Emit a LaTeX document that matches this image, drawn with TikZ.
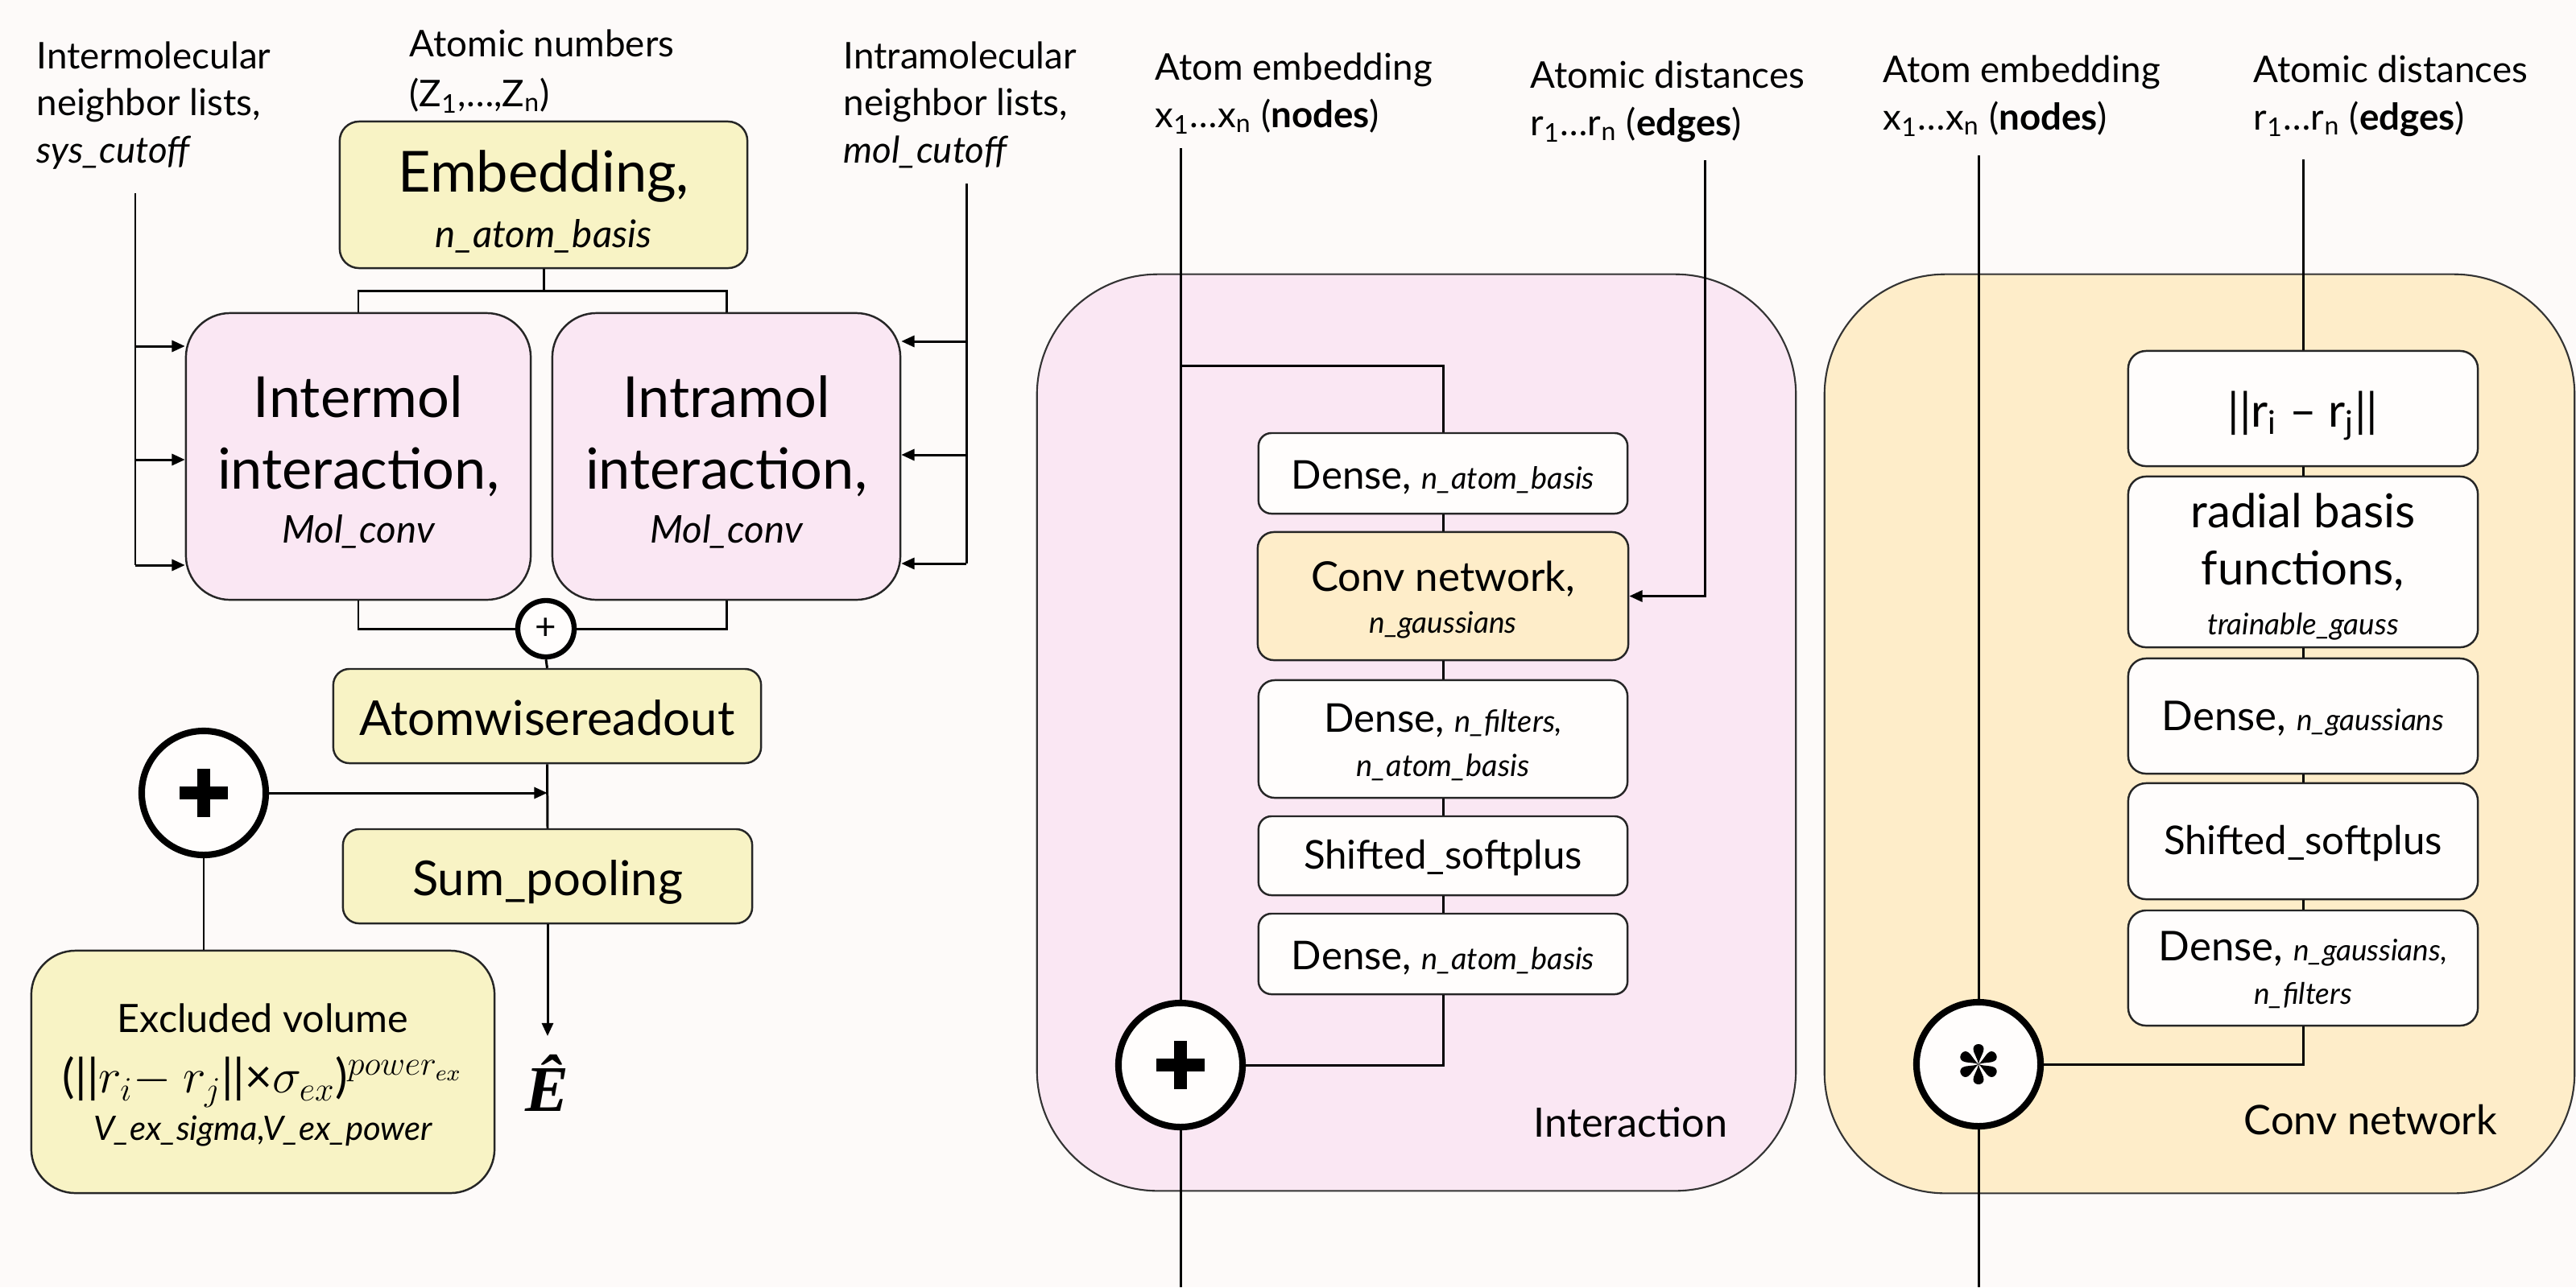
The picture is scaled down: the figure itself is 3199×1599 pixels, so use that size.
\documentclass[tikz,border=0pt]{standalone}
\usepackage{amsmath}
\usepackage{fontspec}
\setmainfont{Lato}
\newfontfamily\energyfont{Liberation Serif}
\usetikzlibrary{arrows.meta}

\definecolor{pagebg}{HTML}{FDFAF9}
\definecolor{yel}{HTML}{F8F3C5}
\definecolor{pnk}{HTML}{FAE7F3}
\definecolor{org}{HTML}{FEEDC9}
\definecolor{wht}{HTML}{FFFDFC}

\newcommand{\fsz}[2]{\fontsize{#1pt}{#2pt}\selectfont}

\begin{document}
\begin{tikzpicture}[x=0.01cm, y=-0.01cm,
  box/.style={draw=black!85, line width=0.7pt, align=center, inner sep=0pt, rounded corners=#1},
  box/.default=0.18cm,
  % last baseline sits #1 below the box centre
  drop/.style={text depth=0pt, text height=2*#1},
  panel/.style={draw=black!80, line width=0.6pt, inner sep=0pt, rounded corners=1.5cm},
  lbl/.style={align=left, inner sep=0pt, font={\fsz{13}{16.5}}},
  conn/.style={line width=0.85pt},
  arr/.style={conn, -{Triangle[length=4.6pt, width=4pt]}},
  opc/.style={circle, draw, line width=2.3pt, fill=wht, minimum size=1.54cm, inner sep=0pt},
  plusbar/.style={line width=4.3pt},
]
% page
\path[use as bounding box, fill=pagebg] (0,0) rectangle (3199,1599);

% ---------------- left: full model ----------------
% multi-line labels are placed by the baseline of their last line
\node[lbl, anchor=base west] (inlbl) at (45,202) {Intermolecular\\neighbor lists,\\\textit{sys\_cutoff}};
\node[lbl, anchor=base west, font={\fsz{13}{17.6}}] (znlbl) at (508,132) {Atomic numbers\\(Z\textsubscript{1},…,Z\textsubscript{n})};
\node[lbl, anchor=base west] (intralbl) at (1047,202) {Intramolecular\\neighbor lists,\\\textit{mol\_cutoff}};

\node[box=0.24cm, fill=yel, minimum width=5.06cm, minimum height=1.82cm, font={\fsz{20}{19.6}}, drop=18.5pt] (emb) at (675,242)
  {Embedding,\\\fsz{13.5}{19.6}\itshape n\_atom\_basis};

\node[box=0.55cm, fill=pnk, minimum width=4.28cm, minimum height=3.56cm, font={\fsz{20}{19.3}}, drop=30.7pt] (intermol) at (445,567)
  {Intermol\\[6pt]interaction,\\\fsz{13.5}{19.3}\itshape Mol\_conv};
\node[box=0.55cm, fill=pnk, minimum width=4.32cm, minimum height=3.56cm, font={\fsz{20}{19.3}}, drop=30.7pt] (intramol) at (902,567)
  {Intramol\\[6pt]interaction,\\\fsz{13.5}{19.3}\itshape Mol\_conv};

\coordinate (barL) at (445,361);
\coordinate (barR) at (902,361);
\draw[conn] (emb.south) -- (emb.south |- barL);
\draw[conn] (intermol.north) -- (barL) -- (barR) -- (intramol.north);

% neighbor list feeds
\coordinate (sysTop) at (168,240);
\coordinate (sysA) at (168,430);
\coordinate (sysB) at (168,571);
\coordinate (sysC) at (168,702);
\draw[conn] (sysTop) -- (sysC);
\foreach \c in {sysA,sysB,sysC} \draw[arr] (\c) -- (\c -| intermol.west);

\coordinate (molTop) at (1200,228);
\coordinate (molA) at (1200,424);
\coordinate (molB) at (1200,565);
\coordinate (molC) at (1200,700);
\draw[conn] (molTop) -- (molC);
\foreach \c in {molA,molB,molC} \draw[arr] (\c) -- (\c -| intramol.east);

% sum of the two interactions
\node[circle, draw, line width=1.8pt, fill=wht, minimum size=0.7cm, inner sep=0pt, font={\fsz{13}{14}}] (sumc) at (678,781) {+};
\draw[conn] (intermol.south) |- (sumc.west);
\draw[conn] (intramol.south) |- (sumc.east);

\node[box=0.2cm, fill=yel, minimum width=5.31cm, minimum height=1.17cm, font={\fsz{17}{20}}, drop=6.7pt] (atomw) at (679.5,889.5) {Atomwisereadout};
\node[box=0.2cm, fill=yel, minimum width=5.08cm, minimum height=1.17cm, font={\fsz{17}{20}}, drop=6.7pt] (sump) at (680,1088.5) {Sum\_pooling};
\draw[conn] (sumc.south) -- (atomw.north);
\draw[conn] (atomw.south) -- (sump.north);

% excluded volume term
\node[opc] (bigp) at (253,985) {};
\draw[plusbar] (bigp.center) ++(-30,0) -- ++(60,0) (bigp.center) ++(0,-30) -- ++(0,60);
\draw[arr] (bigp.east) -- (bigp.east -| atomw.south);

\node[box=0.55cm, fill=yel, minimum width=5.75cm, minimum height=3.01cm, font={\fsz{13.8}{16.8}}, drop=24.3pt] (excl) at (326.5,1331.5)
  {Excluded volume\\[4.5pt]\fsz{16.5}{16.8}(||\(r_i\)\(-\) \(r_j\)||×\(\sigma_{ex}\))\(^{power_{ex}}\)\\\fsz{11.9}{16.8}\itshape V\_ex\_sigma,V\_ex\_power};
\draw[conn] (bigp.south) -- (bigp.south |- excl.north);

\coordinate (eTip) at (680,1287);
\draw[arr] (sump.south) -- (eTip);
\node[inner sep=0pt, anchor=base, font={\energyfont\bfseries\itshape\fsz{23}{26}}] (ehat) at (679,1380) {Ê};

% ---------------- middle: interaction block ----------------
\node[panel, fill=pnk, minimum width=9.42cm, minimum height=11.38cm] (ipanel) at (1759,910) {};
\node[lbl, anchor=base west] (aelbl1) at (1434,158) {Atom embedding\\x\textsubscript{1}…x\textsubscript{n} (\textbf{nodes})};
\node[lbl, anchor=base west] (adlbl1) at (1900,168) {Atomic distances\\r\textsubscript{1}…r\textsubscript{n} (\textbf{edges})};

\node[box=0.16cm, fill=wht, minimum width=4.58cm, minimum height=1.0cm, drop=5.4pt] (dense1) at (1792,588)
  {\fsz{14}{18}Dense, {\fsz{10.8}{14}\itshape n\_atom\_basis}};
\node[box=0.2cm, fill=org, minimum width=4.6cm, minimum height=1.59cm, font={\fsz{14.5}{15}}, drop=13.2pt] (conv) at (1792,740.5)
  {Conv network,\\\fsz{10.5}{15}\itshape n\_gaussians};
\node[box=0.2cm, fill=wht, minimum width=4.58cm, minimum height=1.46cm, font={\fsz{14}{15.4}}, drop=13.1pt] (dense2) at (1792,918)
  {Dense, {\fsz{10.8}{14}\itshape n\_filters,}\\\fsz{10.8}{15.4}\itshape n\_atom\_basis};
\node[box=0.16cm, fill=wht, minimum width=4.58cm, minimum height=0.98cm, font={\fsz{14}{18}}, drop=4.8pt] (shift1) at (1792,1063) {Shifted\_softplus};
\node[box=0.16cm, fill=wht, minimum width=4.58cm, minimum height=1.0cm, drop=5.4pt] (dense3) at (1792,1185)
  {\fsz{14}{18}Dense, {\fsz{10.8}{14}\itshape n\_atom\_basis}};

\node[opc] (plus1) at (1466,1323) {};
\draw[plusbar] (plus1.center) ++(-30,0) -- ++(60,0) (plus1.center) ++(0,-30) -- ++(0,60);

\coordinate (aeTop1) at (1466,184);
\coordinate (aeBot1) at (1466,1599);
\coordinate (br1) at (1466,454);
\coordinate (adTop1) at (2117,199);
\draw[conn] (aeTop1) -- (plus1.north);
\draw[conn] (plus1.south) -- (aeBot1);
\draw[conn] (br1) -| (dense1.north);
\draw[conn] (dense1.south) -- (conv.north);
\draw[conn] (conv.south) -- (dense2.north);
\draw[conn] (dense2.south) -- (shift1.north);
\draw[conn] (shift1.south) -- (dense3.north);
\draw[conn] (dense3.south) |- (plus1.east);
\draw[arr] (adTop1) |- (conv.east);

\node[inner sep=0pt, anchor=base west, font={\fsz{14.3}{18}}] (ititle) at (1904,1412) {Interaction};

% ---------------- right: conv network block ----------------
\node[panel, fill=org, minimum width=9.31cm, minimum height=11.41cm] (cpanel) at (2731.5,911.5) {};
\node[lbl, anchor=base west] (aelbl2) at (2338,161) {Atom embedding\\x\textsubscript{1}…x\textsubscript{n} (\textbf{nodes})};
\node[lbl, anchor=base west] (adlbl2) at (2798,161) {Atomic distances\\r\textsubscript{1}…r\textsubscript{n} (\textbf{edges})};

\node[box=0.22cm, fill=wht, minimum width=4.34cm, minimum height=1.43cm, font={\fsz{16.5}{20}}, drop=6.4pt] (norm) at (2860,507.5)
  {||r\textsubscript{i} – r\textsubscript{j}||};
\node[box=0.22cm, fill=wht, minimum width=4.34cm, minimum height=2.12cm, font={\fsz{16.5}{17.4}}, drop=25.6pt] (rbf) at (2860,698)
  {radial basis\\[2.8pt]functions,\\\fsz{10.5}{17.4}\itshape trainable\_gauss};
\node[box=0.22cm, fill=wht, minimum width=4.34cm, minimum height=1.43cm, drop=5pt] (dng) at (2860,889.5)
  {\fsz{14.5}{18}Dense, {\fsz{10.5}{14}\itshape n\_gaussians}};
\node[box=0.22cm, fill=wht, minimum width=4.34cm, minimum height=1.44cm, font={\fsz{14}{18}}, drop=4.6pt] (shift2) at (2860,1045) {Shifted\_softplus};
\node[box=0.22cm, fill=wht, minimum width=4.34cm, minimum height=1.43cm, font={\fsz{14.5}{15.4}}, drop=12.9pt] (dgf) at (2860,1202.5)
  {Dense, {\fsz{10.5}{14}\itshape n\_gaussians,}\\\fsz{10.5}{15.4}\itshape n\_filters};

% convolution operator: six teardrop spokes
\node[opc] (star) at (2457,1322) {};
\begin{scope}[shift={(star.center)}]
  \foreach \a in {0,60,...,300}
    \fill[rotate=\a] (0,0) .. controls (-1.5,8) and (-6.5,14) .. (-6.5,19)
      .. controls (-6.5,27) and (6.5,27) .. (6.5,19) .. controls (6.5,14) and (1.5,8) .. (0,0) -- cycle;
\end{scope}

\coordinate (aeTop2) at (2457,193);
\coordinate (aeBot2) at (2457,1599);
\coordinate (adTop2) at (2860,198);
\draw[conn] (aeTop2) -- (star.north);
\draw[conn] (star.south) -- (aeBot2);
\draw[conn] (adTop2) -- (norm.north);
\draw[conn] (norm.south) -- (rbf.north);
\draw[conn] (rbf.south) -- (dng.north);
\draw[conn] (dng.south) -- (shift2.north);
\draw[conn] (shift2.south) -- (dgf.north);
\draw[conn] (dgf.south) |- (star.east);

\node[inner sep=0pt, anchor=base west, font={\fsz{14.4}{18}}] (ctitle) at (2786,1409) {Conv network};
\end{tikzpicture}
\end{document}
